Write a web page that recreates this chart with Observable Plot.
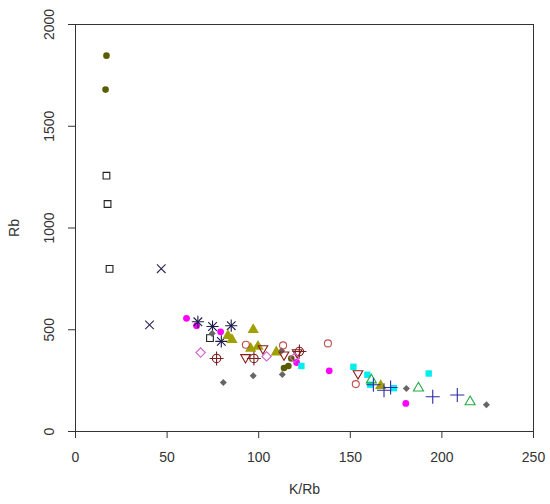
<!DOCTYPE html>
<html><head><meta charset="utf-8">
<script src="https://cdn.jsdelivr.net/npm/d3@7"></script>
<script src="https://cdn.jsdelivr.net/npm/@observablehq/plot@0.6"></script>
<style>body{margin:0;background:#fff}</style>
</head><body><div id="chart"></div><script>
// [K/Rb, Rb] pairs per symbol group
const oliveCircles   = [[16.9,1847],[16.4,1680],[117.8,359],[113.8,312],[116.2,322]];
const openSquares    = [[16.9,1257],[17.5,1118],[18.6,799],[73.4,459]];
const timesMarks     = [[46.8,800],[40.4,524]];
const magentaCircles = [[60.6,556],[66.1,520],[79.2,490],[120.7,339],[138.5,298],[180.3,138]];
const asterisks      = [[66.8,539],[74.8,516],[79.6,443],[85.0,520]];
const grayDiamonds   = [[74.6,482],[80.7,241],[97.0,274],[112.9,280],[112.5,397],[180.6,211],[224.3,131]];
const oliveTriangles = [[83.2,470],[85.4,451],[97.0,500],[95.6,408],[99.6,418],[109.6,390],[166.6,225]];
const redCircles     = [[93.0,426],[113.3,423],[137.8,433],[153.0,233]];
const downTriangles  = [[92.8,364],[102.3,408],[113.8,377],[121.0,388],[154.2,285]];
const crosshairs     = [[77.0,359],[97.4,359],[122.2,393]];
const pinkDiamonds   = [[68.3,388],[104.3,369],[119.6,362]];
const cyanSquares    = [[123.3,322],[151.7,318],[159.3,279],[160.9,230],[173.8,213],[192.8,285]];
const greenTriangles = [[161.5,253],[187.2,213],[215.4,146]];
const bluePluses     = [[162.6,230],[168.4,203],[172.0,216],[195.0,171],[208.4,179]];

const xTicks = [0,50,100,150,200,250];
const yTicks = [0,500,1000,1500,2000];
const xLabel = "K/Rb";
const yLabel = "Rb";

const rows = arr => arr.map(([x,y]) => ({x,y}));
const dot = (arr, opts) => Plot.dot(rows(arr), {x:"x", y:"y", strokeWidth:1.1, ...opts});
const fmt = d => String(d);

const chart = Plot.plot({
  width:550, height:504,
  marginLeft:75, marginRight:17, marginTop:24, marginBottom:73,
  style:{fontFamily:"'Liberation Sans', Arial, sans-serif", fontSize:"13px", color:"#333", background:"#fff"},
  x:{domain:[0,250]},
  y:{domain:[0,2000]},
  marks:[
    Plot.frame({stroke:"#333"}),
    Plot.axisX({ticks:xTicks, tickFormat:fmt, tickSize:7, tickPadding:14, label:xLabel, labelAnchor:"center", labelArrow:"none", labelOffset:62, fontSize:14, stroke:"#333"}),
    Plot.axisY({ticks:yTicks, tickFormat:fmt, tickSize:7, tickPadding:15, tickRotate:-90, label:yLabel, labelAnchor:"center", labelArrow:"none", labelOffset:66, fontSize:14, stroke:"#333"}),
    dot(oliveCircles,   {symbol:"circle",   r:3.3, fill:"#5b5b00"}),
    dot(openSquares,    {symbol:"square",   r:3.8, fill:"none", stroke:"#222"}),
    dot(timesMarks,     {symbol:"times",    r:4.0, stroke:"#2a2a5a"}),
    dot(magentaCircles, {symbol:"circle",   r:3.4, fill:"#ff00ff"}),
    dot(asterisks,      {symbol:"plus",     r:4.0, stroke:"#1c1c4c"}),
    dot(asterisks,      {symbol:"times",    r:4.0, stroke:"#1c1c4c"}),
    dot(grayDiamonds,   {symbol:"square",   r:2.8, fill:"#666666", rotate:45}),
    dot(oliveTriangles, {symbol:"triangle", r:4.2, fill:"#a0a000"}),
    dot(redCircles,     {symbol:"circle",   r:3.5, fill:"none", stroke:"#c0504d"}),
    dot(downTriangles,  {symbol:"triangle2",r:4.6, fill:"none", stroke:"#8b1c1c", rotate:180}),
    dot(crosshairs,     {symbol:"circle",   r:4.2, fill:"none", stroke:"#7a1e1e"}),
    dot(crosshairs,     {symbol:"plus",     r:4.6, stroke:"#7a1e1e"}),
    dot(pinkDiamonds,   {symbol:"square2",  r:4.2, fill:"none", stroke:"#d060d0", rotate:45}),
    dot(cyanSquares,    {symbol:"square",   r:3.6, fill:"#00eeee"}),
    dot(greenTriangles, {symbol:"triangle2",r:4.8, fill:"none", stroke:"#22aa44"}),
    dot(bluePluses,     {symbol:"plus",     r:4.6, stroke:"#2a2aa8"})
  ]
});
document.getElementById("chart").appendChild(chart);
</script></body></html>
